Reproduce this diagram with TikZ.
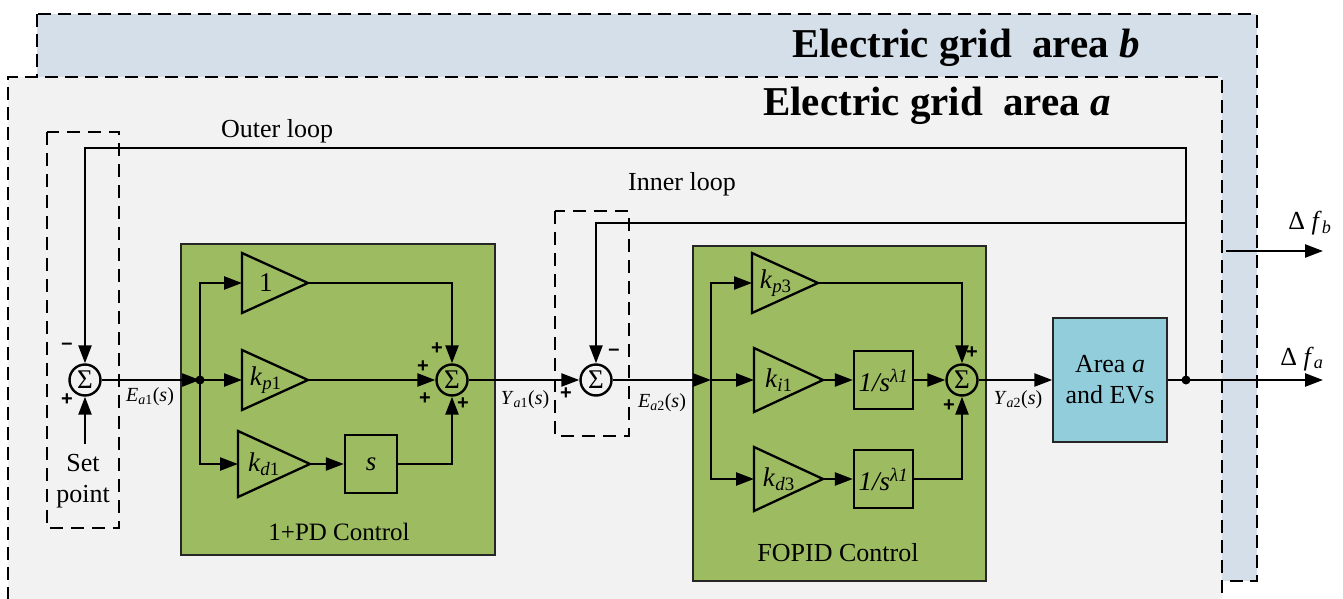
\documentclass[tikz,border=0pt]{standalone}
\usepackage{fontspec}
\setmainfont{Liberation Serif}
\newfontfamily\signfont{Liberation Sans}
\usetikzlibrary{arrows.meta}
\definecolor{gridb}{RGB}{213,223,234}
\definecolor{grida}{RGB}{242,242,242}
\definecolor{ctrlgreen}{RGB}{157,187,97}
\definecolor{plantblue}{RGB}{146,205,220}
\newcommand\ksub[2]{\textit{k}\textsubscript{\textit{#1}#2}}
\newcommand\gainblk[6]{%
  \draw[blk] (#2,#3-#5) -- (#2+#4,#3) -- (#2,#3+#5) -- cycle;
  \coordinate (#1-in) at (#2,#3);
  \coordinate (#1-out) at (#2+#4,#3);
  \node[gl] (#1) at (#2+#4*0.36,#3) {#6};}
\begin{document}
\begin{tikzpicture}[x=1pt,y=-1pt,
  sig/.style={line width=2.4pt},
  arr/.style={sig,-{Triangle[length=18pt,width=13pt]}},
  blk/.style={draw,line width=2.3pt},
  sumnode/.style={circle,draw,line width=2.4pt,minimum size=31pt,inner sep=0pt,font=\fontsize{27}{27}\selectfont},
  gl/.style={font=\fontsize{27}{27}\selectfont, inner sep=0pt},
  tfbox/.style={blk,inner sep=0pt,font=\fontsize{27}{27}\selectfont},
  ctrlbox/.style={draw=black!85,line width=1.4pt,fill=ctrlgreen,inner sep=0pt},
  sgn/.style={font=\signfont\bfseries\fontsize{20}{20}\selectfont,inner sep=0pt},
  txt/.style={font=\fontsize{26}{31}\selectfont,inner sep=0pt},
  lbl/.style={font=\fontsize{20}{20}\selectfont,inner sep=0pt},
  title/.style={font=\bfseries\fontsize{41}{41}\selectfont,inner sep=0pt,anchor=base west},
  areadash/.style={line width=1.3pt,dash pattern=on 13pt off 7pt},
  loopdash/.style={line width=1.9pt,dash pattern=on 13pt off 8pt},
  dot/.style={circle,fill,inner sep=0pt,minimum size=9pt}]
\useasboundingbox (0,0) rectangle (1343,599);
\fill[white] (0,0) rectangle (1343,599);
% areas
\fill[gridb] (37,14) rectangle (1257,581);
\draw[areadash] (37,14) rectangle (1257,581);
\fill[grida] (8,77) rectangle (1222,600);
\draw[areadash] (8,600) -- (8,77) -- (1222,77) -- (1222,600);
\node[title] (tb) at (792,58) {Electric grid\ \ area \textit{b}};
\node[title] (ta) at (763,116) {Electric grid\ \ area \textit{a}};
% loop dashed boxes
\draw[loopdash] (47,132) rectangle (119,528);
\draw[loopdash] (555,211) rectangle (629,436);
\node[txt,anchor=base west] (outer) at (221,137) {Outer loop};
\node[txt,anchor=base west] (inner) at (628,190) {Inner loop};
% control boxes
\node[ctrlbox,minimum width=314pt,minimum height=311pt] (pdbox) at (338,399.5) {};
\node[txt,font=\fontsize{25}{25}\selectfont] (pdlbl) at (339,532) {1+PD Control};
\node[ctrlbox,minimum width=293pt,minimum height=335pt] (fobox) at (839.5,413.5) {};
\node[txt] (folbl) at (838,553) {FOPID Control};
% sums
\node[sumnode] (sum1) at (85,380) {Σ};
\node[sumnode] (sum2) at (452,380) {Σ};
\node[sumnode] (sum3) at (596,380) {Σ};
\node[sumnode] (sum4) at (962,380) {Σ};
% signs
\node[sgn] at (67,346) {–};
\node[sgn] at (67,400) {+};
\node[sgn] at (437,349) {+};
\node[sgn] at (423,367) {+};
\node[sgn] at (425,399) {+};
\node[sgn] at (463,404) {+};
\node[sgn] at (614,352) {–};
\node[sgn] at (566,394) {+};
\node[sgn] at (972,353) {+};
\node[sgn] at (949,406) {+};
% set point
\node[txt,align=center,anchor=north] (setpt) at (83,454) {Set\\point};
% gains
\gainblk{g1}{242}{283}{66}{30}{1}
\gainblk{gp1}{242}{380}{66}{30}{\ksub{p}{1}}
\gainblk{gd1}{238}{464}{72}{33}{\ksub{d}{1}}
\gainblk{gp3}{752}{283}{66}{30}{\ksub{p}{3}}
\gainblk{gi1}{754}{380}{69}{32}{\ksub{i}{1}}
\gainblk{gd3}{754}{479}{69}{32}{\ksub{d}{3}}
% blocks
\node[tfbox,minimum width=52pt,minimum height=58pt] (sbox) at (371,464) {\textit{s}};
\node[tfbox,minimum width=59pt,minimum height=58pt] (fi1) at (883.5,380) {\textit{1/s}\textsuperscript{\textit{λ1}}};
\node[tfbox,minimum width=59pt,minimum height=58pt] (fd3) at (883.5,479) {\textit{1/s}\textsuperscript{\textit{λ1}}};
\node[draw=black!85,line width=1.4pt,fill=plantblue,minimum width=114pt,minimum height=124pt,align=center,font=\fontsize{26}{31}\selectfont] (plant) at (1110,380) {Area \textit{a}\\and EVs};
% coordinates
\coordinate (b1) at (200,380);
\coordinate (b2) at (711,380);
\coordinate (junc) at (1186,380);
\coordinate (otop) at (1186,148);
\coordinate (itop) at (1186,223);
\coordinate (faend) at (1323,380);
\coordinate (fbstart) at (1226,251);
\coordinate (fbend) at (1323,251);
% connectors
\draw[arr] (junc) -- (otop) -| (sum1.north);
\draw[arr] (itop) -| (sum3.north);
\draw[arr] (sum1 |- setpt.north) ++(0,-10) -- (sum1.south);
\draw[arr] (sum1.east) -- (b1);
\draw[arr] (b1) |- (g1-in);
\draw[arr] (b1) -- (gp1-in);
\draw[arr] (b1) |- (gd1-in);
\draw[arr] (g1-out) -| (sum2.north);
\draw[arr] (gp1-out) -- (sum2.west);
\draw[arr] (gd1-out) -- (sbox.west);
\draw[arr] (sbox.east) -| (sum2.south);
\draw[arr] (sum2.east) -- (sum3.west);
\draw[arr] (sum3.east) -- (b2);
\draw[arr] (b2) |- (gp3-in);
\draw[arr] (b2) -- (gi1-in);
\draw[arr] (b2) |- (gd3-in);
\draw[arr] (gi1-out) -- (fi1.west);
\draw[arr] (gd3-out) -- (fd3.west);
\draw[arr] (gp3-out) -| (sum4.north);
\draw[arr] (fi1.east) -- (sum4.west);
\draw[arr] (fd3.east) -| (sum4.south);
\draw[arr] (sum4.east) -- (plant.west);
\draw[arr] (plant.east) -- (faend);
\draw[arr] (fbstart) -- (fbend);
\node[dot] (d1) at (b1) {};
\node[dot] (d2) at (junc) {};
% signal labels
\node[lbl] (ea1) at (150,397) {\textit{E}\textsubscript{\textit{a}1}(\textit{s})};
\node[lbl] (ya1) at (525,400) {\textit{Y}\textsubscript{\textit{a}1}(\textit{s})};
\node[lbl] (ea2) at (662,403) {\textit{E}\textsubscript{\textit{a}2}(\textit{s})};
\node[lbl] (ya2) at (1018,400) {\textit{Y}\textsubscript{\textit{a}2}(\textit{s})};
\node[txt,anchor=base] (dfa) at (1302,365) {Δ \textit{f}\textsubscript{\textit{a}}};
\node[txt,anchor=base] (dfb) at (1310,229) {Δ \textit{f}\textsubscript{\textit{b}}};
\end{tikzpicture}
\end{document}
